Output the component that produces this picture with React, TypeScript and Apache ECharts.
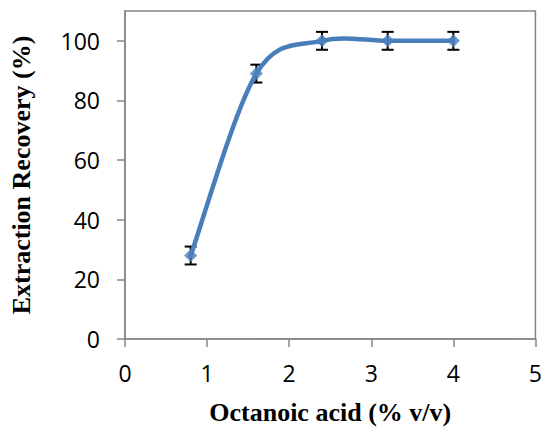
import React, { useEffect, useRef } from "react";
import * as echarts from "echarts";

const concentrations = [0.8, 1.6, 2.4, 3.2, 4.0];
const recovery = [28, 89, 100, 100, 100];
const errors = [3, 3, 3, 3, 3];

export default function App() {
  const ref = useRef<HTMLDivElement>(null);
  useEffect(() => {
    document.body.style.margin = "0";
    if (!ref.current) return;
    const chart = echarts.init(ref.current, null, { renderer: "svg" });
    const pointData = concentrations.map((x, i) => [x, recovery[i]]);
    const errData = concentrations.map((x, i) => [x, recovery[i] - errors[i], recovery[i] + errors[i]]);
    const axisColor = "#868686";
    const lineColor = "#4a7ebb";
    chart.setOption({
      animation: false,
      grid: {
        left: 121,
        right: 8,
        top: 11,
        bottom: 88,
        show: true,
        borderColor: axisColor,
        borderWidth: 1.5,
      },
      xAxis: {
        type: "value",
        min: 0,
        max: 5,
        interval: 1,
        name: "Octanoic acid (% v/v)",
        nameLocation: "middle",
        nameGap: 60,
        nameTextStyle: {
          fontFamily: "Liberation Serif",
          fontWeight: "bold",
          fontSize: 26,
          color: "#000",
        },
        axisLine: { show: true, lineStyle: { color: axisColor, width: 1.5 } },
        axisTick: { show: true, length: 8, lineStyle: { color: axisColor, width: 1.5 } },
        axisLabel: { margin: 22, fontFamily: "Open Sans", fontSize: 23, color: "#000", showMaxLabel: true },
        splitLine: { show: false },
      },
      yAxis: {
        type: "value",
        min: 0,
        max: 110,
        interval: 20,
        name: "Extraction Recovery (%)",
        nameLocation: "middle",
        nameGap: 91,
        nameTextStyle: {
          fontFamily: "Liberation Serif",
          fontWeight: "bold",
          fontSize: 26,
          color: "#000",
        },
        axisLine: { show: true, lineStyle: { color: axisColor, width: 1.5 } },
        axisTick: { show: true, length: 8, lineStyle: { color: axisColor, width: 1.5 } },
        axisLabel: {
          margin: 25,
          fontFamily: "Open Sans",
          fontSize: 23,
          color: "#000",
          showMaxLabel: false,
          formatter: (v: number) => (v > 100 ? "" : String(v)),
        },
        splitLine: { show: false },
      },
      series: [
        {
          type: "custom",
          data: errData,
          z: 1,
          renderItem: (params: any, api: any) => {
            const x = api.value(0);
            const lo = api.coord([x, api.value(1)]);
            const hi = api.coord([x, api.value(2)]);
            const w = 6;
            const style = { stroke: "#000", lineWidth: 2 };
            return {
              type: "group",
              children: [
                { type: "line", shape: { x1: lo[0], y1: lo[1], x2: hi[0], y2: hi[1] }, style },
                { type: "line", shape: { x1: lo[0] - w, y1: lo[1], x2: lo[0] + w, y2: lo[1] }, style },
                { type: "line", shape: { x1: hi[0] - w, y1: hi[1], x2: hi[0] + w, y2: hi[1] }, style },
              ],
            };
          },
        },
        {
          // smoothed line (Catmull-Rom style spline, like a spreadsheet's smoothed line)
          type: "custom",
          data: pointData,
          z: 2,
          renderItem: (params: any, api: any) => {
            const i = params.dataIndex;
            const n = concentrations.length;
            if (i >= n - 1) return null;
            const P = (k: number) => {
              const kk = Math.max(0, Math.min(n - 1, k));
              return api.coord([concentrations[kk], recovery[kk]]);
            };
            const p0 = P(i - 1);
            const p1 = P(i);
            const p2 = P(i + 1);
            const p3 = P(i + 2);
            const cp1 = [p1[0] + (p2[0] - p0[0]) / 6, p1[1] + (p2[1] - p0[1]) / 6];
            const cp2 = [p2[0] - (p3[0] - p1[0]) / 6, p2[1] - (p3[1] - p1[1]) / 6];
            return {
              type: "bezierCurve",
              shape: { x1: p1[0], y1: p1[1], cpx1: cp1[0], cpy1: cp1[1], cpx2: cp2[0], cpy2: cp2[1], x2: p2[0], y2: p2[1] },
              style: { stroke: lineColor, lineWidth: 4.5, fill: "none", lineCap: "round" },
            };
          },
        },
        {
          type: "scatter",
          data: pointData,
          symbol: "diamond",
          symbolSize: 13,
          itemStyle: { color: lineColor },
          z: 3,
        },
      ],
    });
    return () => chart.dispose();
  }, []);
  return <div ref={ref} style={{ width: 545, height: 430 }} />;
}
